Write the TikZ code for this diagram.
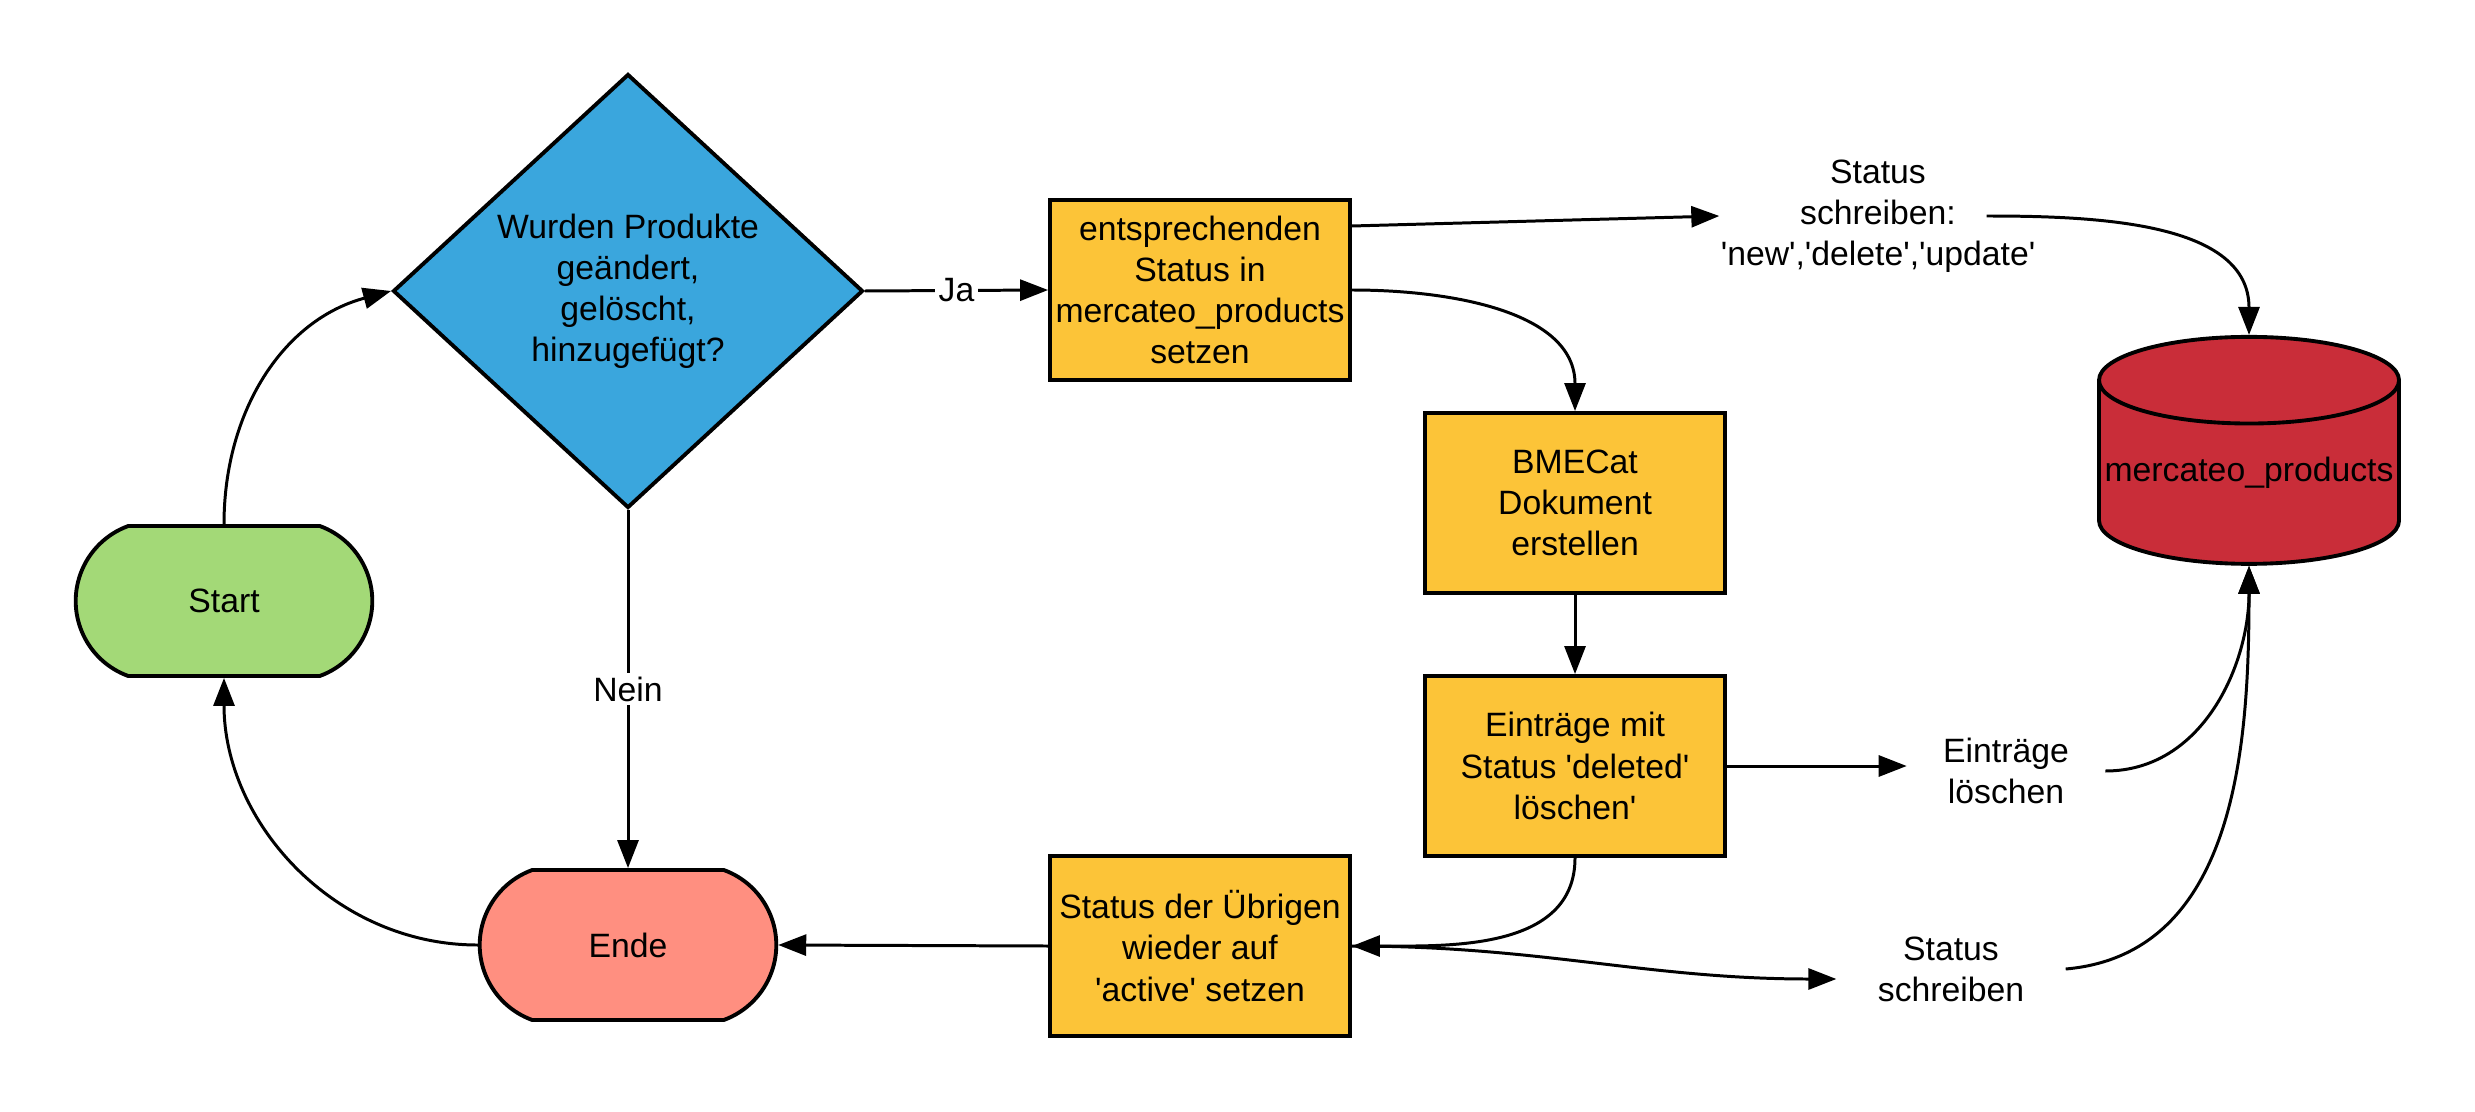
\documentclass[tikz,border=0pt]{standalone}
\usepackage{fontspec}
\setmainfont{Liberation Sans}
\usetikzlibrary{shapes.geometric,shapes.misc,arrows.meta}
\definecolor{startgreen}{HTML}{A3D977}
\definecolor{endsalmon}{HTML}{FF8F80}
\definecolor{askblue}{HTML}{3AA6DD}
\definecolor{stepyellow}{HTML}{FCC438}
\definecolor{dbred}{HTML}{C92D39}
\newcommand{\sq}{\textquotesingle}

\begin{document}
\begin{tikzpicture}[
  font=\fontsize{9.6}{11.7}\selectfont,
  line width=0.85pt,
  arr/.style={-{Triangle[length=2.8mm,width=2.1mm]}},
  term/.style={rounded rectangle, rounded rectangle arc length=140, draw, line width=1.1pt, minimum width=3.2cm, minimum height=1.5cm},
  stepbox/.style={rectangle, draw, line width=1.1pt, fill=stepyellow, minimum width=3cm, minimum height=1.8cm, align=center, inner sep=0pt},
  lbl/.style={fill=white, inner sep=1pt},
  note/.style={align=center, inner ysep=0pt}
]
\useasboundingbox (0,0) rectangle (24.75,-11.12);

% Start and end of the loop
\node[term, fill=startgreen] (start) at (2.24,-6.01) {Start};
\node[term, fill=endsalmon] (ende) at (6.28,-9.45) {Ende};

% Decision
\node[diamond, draw, line width=1.1pt, fill=askblue, minimum width=4.7cm, minimum height=4.34cm, inner sep=0pt, align=center] (ask) at (6.28,-2.91) {Wurden Produkte\\geändert,\\gelöscht,\\hinzugefügt?};

% Steps
\node[stepbox] (setstatus) at (12.00,-2.90) {entsprechenden\\Status in\\mercateo\_products\\setzen};
\node[stepbox] (bmecat) at (15.75,-5.03) {BMECat\\Dokument\\erstellen};
\node[stepbox] (delentries) at (15.75,-7.66) {Einträge mit\\Status \sq deleted\sq\\löschen\sq};
\node[stepbox] (reset) at (12.00,-9.46) {Status der Übrigen\\wieder auf\\\sq active\sq{} setzen};

% Database
\node[cylinder, shape border rotate=90, draw, line width=1.1pt, fill=dbred, minimum width=3cm, minimum height=2.27cm, aspect=0.3, inner sep=0pt] (db) at (22.49,-4.73) {mercateo\_products};

% Free texts
\node[note, inner xsep=0pt] (writeall) at (18.78,-2.16) {Status\\schreiben:\\\sq new\sq,\sq delete\sq,\sq update\sq};
\node[note, inner xsep=3.5mm] (dellabel) at (20.06,-7.71) {Einträge\\löschen};
\node[note, inner xsep=4mm] (writeact) at (19.51,-9.69) {Status\\schreiben};

% Connectors
\draw[arr] (start.north) to[out=90,in=195] (ask.west);
\draw[arr] (ende.west) to[out=180,in=-90] (start.south);
\draw[arr] (ask.south) -- node[lbl] {Nein} (ende.north);
\draw[arr] (ask.east) -- node[lbl] {Ja} (setstatus.west);
\draw[arr] ([yshift=6.4mm]setstatus.east) -- (writeall.west);
\draw[arr] ([xshift=-5mm]writeall.east) to[out=0,in=90] (db.north);
\draw[arr] (setstatus.east) to[out=0,in=90] (bmecat.north);
\draw[arr] (bmecat.south) -- (delentries.north);
\draw[arr] (delentries.east) -- (delentries.east -| dellabel.west);
\draw[arr] (dellabel.east) to[out=0,in=-90] (db.south);
\draw[arr] (delentries.south) to[out=-90,in=0] (reset.east);
\draw[arr] (reset.east) to[out=0,in=180] ([yshift=-1mm]writeact.west);
\draw[arr] (writeact.east) to[out=5,in=-90] (db.south);
\draw[arr] (reset.west) -- (ende.east);

\end{tikzpicture}
\end{document}
